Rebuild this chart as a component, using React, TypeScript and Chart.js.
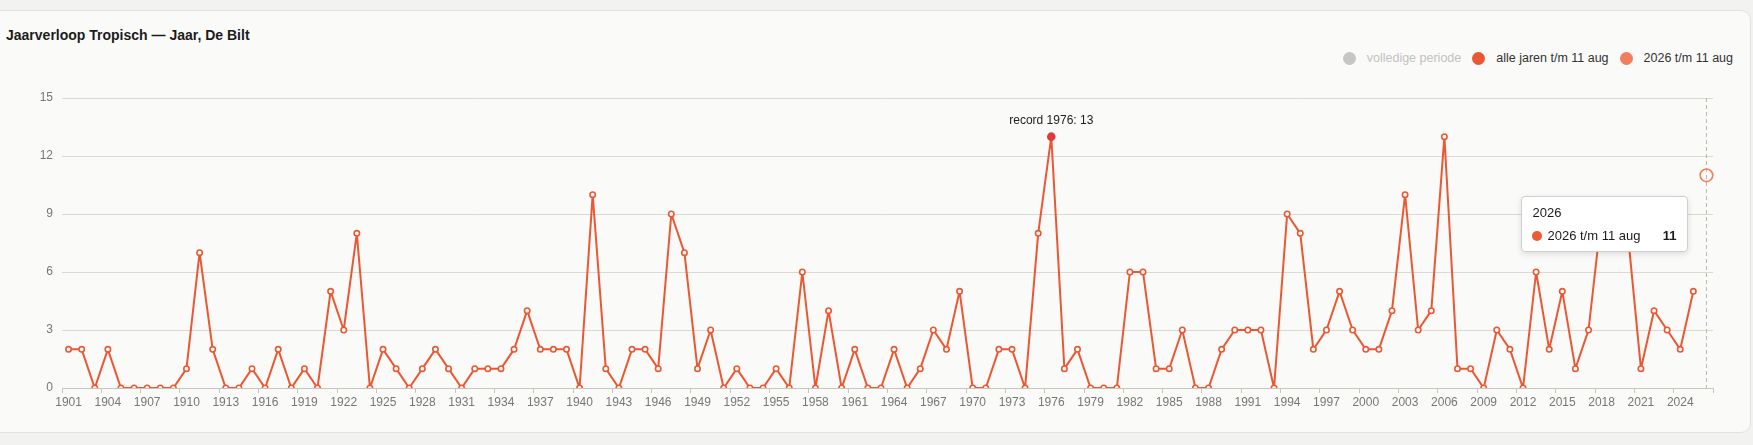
import React, { useEffect, useRef } from "react";
import { Chart, registerables } from "chart.js";

Chart.register(...registerables);

const FONT = "'Liberation Sans', Arial, Helvetica, sans-serif";

const years = [
  "1901", "1902", "1903", "1904", "1905", "1906", "1907", "1908", "1909", "1910",
  "1911", "1912", "1913", "1914", "1915", "1916", "1917", "1918", "1919", "1920",
  "1921", "1922", "1923", "1924", "1925", "1926", "1927", "1928", "1929", "1930",
  "1931", "1932", "1933", "1934", "1935", "1936", "1937", "1938", "1939", "1940",
  "1941", "1942", "1943", "1944", "1945", "1946", "1947", "1948", "1949", "1950",
  "1951", "1952", "1953", "1954", "1955", "1956", "1957", "1958", "1959", "1960",
  "1961", "1962", "1963", "1964", "1965", "1966", "1967", "1968", "1969", "1970",
  "1971", "1972", "1973", "1974", "1975", "1976", "1977", "1978", "1979", "1980",
  "1981", "1982", "1983", "1984", "1985", "1986", "1987", "1988", "1989", "1990",
  "1991", "1992", "1993", "1994", "1995", "1996", "1997", "1998", "1999", "2000",
  "2001", "2002", "2003", "2004", "2005", "2006", "2007", "2008", "2009", "2010",
  "2011", "2012", "2013", "2014", "2015", "2016", "2017", "2018", "2019", "2020",
  "2021", "2022", "2023", "2024", "2025", "2026",
];

// tropical days up to 11 Aug, 1901..2025
const allYearsValues: (number | null)[] = [
  2, 2, 0, 2, 0, 0, 0, 0, 0, 1,
  7, 2, 0, 0, 1, 0, 2, 0, 1, 0,
  5, 3, 8, 0, 2, 1, 0, 1, 2, 1,
  0, 1, 1, 1, 2, 4, 2, 2, 2, 0,
  10, 1, 0, 2, 2, 1, 9, 7, 1, 3,
  0, 1, 0, 0, 1, 0, 6, 0, 4, 0,
  2, 0, 0, 2, 0, 1, 3, 2, 5, 0,
  0, 2, 2, 0, 8, 13, 1, 2, 0, 0,
  0, 6, 6, 1, 1, 3, 0, 0, 2, 3,
  3, 3, 0, 9, 8, 2, 3, 5, 3, 2,
  2, 4, 10, 3, 4, 13, 1, 1, 0, 3,
  2, 0, 6, 2, 5, 1, 3, 9, 8, 8,
  1, 4, 3, 2, 5, null,
];

const currentYear = "2026";
const currentYearValue = 11;

const yTickValues = [0, 3, 6, 9, 12, 15];

const legendLabels = ["volledige periode", "alle jaren t/m 11 aug", "2026 t/m 11 aug"];
const legendColors = ["#c6c6c6", "#ec5733", "#f07e60"];
const legendTextColors = ["#c2c2c2", "#333333", "#333333"];

const LINE = "#ec5733";
const CURRENT = "#f07e60";

export default function App() {
  const canvasRef = useRef<HTMLCanvasElement>(null);
  const tipRef = useRef<HTMLDivElement>(null);

  useEffect(() => {
    document.body.style.margin = "0";
    document.body.style.background = "#f2f2f0";
    document.body.style.overflow = "hidden";

    const currentData = years.map((y) => (y === currentYear ? currentYearValue : null));

    const markerPlugin = {
      id: "markers",
      beforeDatasetsDraw(chart: any) {
        const { ctx, chartArea } = chart;
        const x = chart.scales.x.getPixelForValue(years.indexOf(currentYear));
        ctx.save();
        ctx.strokeStyle = "#b9b6ae";
        ctx.lineWidth = 1;
        ctx.setLineDash([4, 3]);
        ctx.beginPath();
        ctx.moveTo(x, chartArea.top);
        ctx.lineTo(x, chartArea.bottom);
        ctx.stroke();
        ctx.restore();
      },
      afterDatasetsDraw(chart: any) {
        const { ctx } = chart;
        let maxIdx = 0;
        allYearsValues.forEach((v, i) => {
          if (v != null && v > (allYearsValues[maxIdx] as number)) maxIdx = i;
        });
        const el = chart.getDatasetMeta(0).data[maxIdx];
        if (!el) return;
        ctx.save();
        ctx.fillStyle = "#e23a3c";
        ctx.beginPath();
        ctx.arc(el.x, el.y, 4.3, 0, Math.PI * 2);
        ctx.fill();
        ctx.fillStyle = "#222222";
        ctx.font = `12px ${FONT}`;
        ctx.textAlign = "center";
        ctx.textBaseline = "middle";
        ctx.fillText(`record ${years[maxIdx]}: ${allYearsValues[maxIdx]}`, el.x, el.y - 16);
        ctx.restore();
      },
    };

    const chart = new Chart(canvasRef.current!, {
      type: "line",
      data: {
        labels: years,
        datasets: [
          {
            label: legendLabels[1],
            data: allYearsValues,
            borderColor: LINE,
            borderWidth: 2,
            borderJoinStyle: "round",
            pointRadius: 2.7,
            pointHoverRadius: 2.7,
            pointBorderWidth: 1.6,
            pointBackgroundColor: "#ffffff",
            pointBorderColor: LINE,
            tension: 0,
            spanGaps: false,
          },
          {
            label: legendLabels[2],
            data: currentData,
            borderColor: CURRENT,
            showLine: false,
            pointRadius: 6.3,
            pointHoverRadius: 6.3,
            pointBorderWidth: 1.6,
            pointBackgroundColor: "rgba(255,255,255,0)",
            pointBorderColor: CURRENT,
          },
        ],
      },
      options: {
        animation: false,
        responsive: true,
        maintainAspectRatio: false,
        events: [],
        layout: { padding: { left: 32, right: 40, top: 98, bottom: 27 } },
        plugins: {
          legend: { display: false },
          tooltip: { enabled: false },
          title: { display: false },
        },
        scales: {
          x: {
            type: "category",
            offset: true,
            afterFit: (s: any) => {
              s.height = 30;
            },
            grid: {
              offset: true,
              drawOnChartArea: false,
              drawTicks: true,
              tickLength: 5,
              color: (c: any) =>
                c.type !== "tick" || c.index % 3 === 0 ? "#c8c5bc" : "rgba(0,0,0,0)",
            },
            border: { display: true, color: "#c8c5bc", width: 1 },
            ticks: {
              autoSkip: false,
              maxRotation: 0,
              minRotation: 0,
              padding: 2,
              color: "#777775",
              font: { family: FONT, size: 12 },
              callback: (_v: any, i: number) => (i % 3 === 0 ? years[i] : ""),
            },
          },
          y: {
            min: yTickValues[0],
            max: yTickValues[yTickValues.length - 1],
            afterFit: (s: any) => {
              s.width = 30;
            },
            afterBuildTicks: (s: any) => {
              s.ticks = yTickValues.map((v) => ({ value: v }));
            },
            grid: { color: "#dcd9d2", drawTicks: false, lineWidth: 1 },
            border: { display: false },
            ticks: {
              padding: 9,
              color: "#777775",
              font: { family: FONT, size: 12 },
            },
          },
        },
      },
      plugins: [markerPlugin],
    } as any);

    const meta = chart.getDatasetMeta(1);
    const pt: any = meta.data[years.indexOf(currentYear)];
    if (tipRef.current && pt) {
      tipRef.current.style.left = `${pt.x - 185}px`;
      tipRef.current.style.top = `${pt.y + 21}px`;
      tipRef.current.style.display = "block";
    }

    return () => chart.destroy();
  }, []);

  return (
    <div style={{ position: "relative", width: 1753, height: 445, overflow: "hidden", fontFamily: FONT }}>
      <div
        style={{
          position: "absolute",
          left: -20,
          top: 10,
          width: 1771,
          height: 423,
          boxSizing: "border-box",
          border: "1px solid #e3e2dd",
          borderRadius: 10,
          background: "#fafaf8",
        }}
      />
      <div
        style={{
          position: "absolute",
          left: 6,
          top: 26,
          fontSize: 14,
          fontWeight: 700,
          color: "#1c1c1c",
          lineHeight: "18px",
          whiteSpace: "nowrap",
        }}
      >
        Jaarverloop Tropisch — Jaar, De Bilt
      </div>
      <div
        style={{
          position: "absolute",
          right: 20,
          top: 49,
          height: 18,
          display: "flex",
          alignItems: "center",
          fontSize: 12.5,
          whiteSpace: "nowrap",
        }}
      >
        {legendLabels.map((l, i) => (
          <div key={l} style={{ display: "flex", alignItems: "center", marginLeft: i === 0 ? 0 : 11 }}>
            <span
              style={{
                display: "inline-block",
                width: 13,
                height: 13,
                borderRadius: "50%",
                background: legendColors[i],
                marginRight: 11,
              }}
            />
            <span style={{ color: legendTextColors[i] }}>{l}</span>
          </div>
        ))}
      </div>
      <div style={{ position: "absolute", left: 0, top: 0, width: 1753, height: 445 }}>
        <canvas ref={canvasRef} />
      </div>
      <div
        ref={tipRef}
        style={{
          display: "none",
          position: "absolute",
          width: 167,
          height: 56,
          boxSizing: "border-box",
          background: "#ffffff",
          border: "1px solid #cfcfcc",
          borderRadius: 4,
          boxShadow: "0 2px 6px rgba(0,0,0,0.12)",
          padding: "7px 10px 0 10px",
          fontSize: 13,
          color: "#1c1c1c",
        }}
      >
        <div style={{ lineHeight: "18px" }}>{currentYear}</div>
        <div style={{ display: "flex", alignItems: "center", marginTop: 5, lineHeight: "18px" }}>
          <span
            style={{
              display: "inline-block",
              width: 10,
              height: 10,
              borderRadius: "50%",
              background: "#ee5a36",
              marginRight: 5,
            }}
          />
          <span>{legendLabels[2]}</span>
          <span style={{ marginLeft: "auto", fontWeight: 700, paddingRight: 1 }}>{currentYearValue}</span>
        </div>
      </div>
    </div>
  );
}
